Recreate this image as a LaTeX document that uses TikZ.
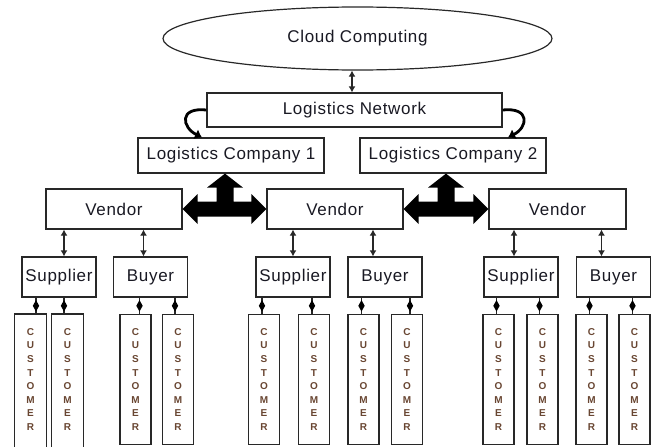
\documentclass[tikz,border=0pt]{standalone}
\usepackage{fontspec}
\setmainfont{Liberation Sans}[LetterSpace=4]
\usetikzlibrary{arrows.meta,shapes.geometric,calc}

\definecolor{edge}{RGB}{40,40,40}
\definecolor{ink}{RGB}{25,25,35}
\definecolor{custink}{RGB}{105,70,50}

% T-shaped block arrow: horizontal double arrow between #1 and #2,
% with a branch pointing up to #3
\newcommand{\blockarrow}[3]{%
  \fill[black] let \p1=(#1), \p2=(#2), \p3=(#3) in
    (\x1,\y1) -- (\x1+15pt,\y1+15pt) -- (\x1+15pt,\y1+7.5pt)
    -- (\x3-8.5pt,\y1+7.5pt) -- (\x3-8.5pt,\y3-14pt) -- (\x3-18pt,\y3-14pt)
    -- (\x3,\y3) -- (\x3+18pt,\y3-14pt) -- (\x3+8.5pt,\y3-14pt)
    -- (\x3+8.5pt,\y2+7.5pt) -- (\x2-15pt,\y2+7.5pt) -- (\x2-15pt,\y2+15pt)
    -- (\x2,\y2) -- (\x2-15pt,\y2-15pt) -- (\x2-15pt,\y2-7.5pt)
    -- (\x1+15pt,\y1-7.5pt) -- (\x1+15pt,\y1-15pt) -- cycle;}

\newcommand{\custword}{C\\U\\S\\T\\O\\M\\E\\R}

\begin{document}
\begin{tikzpicture}[x=1pt,y=-1pt,
  box/.style={draw=edge, line width=1.2pt, fill=white, inner sep=0pt,
    text=ink, font=\fontsize{17}{20}\selectfont},
  cloudshape/.style={box, ellipse, minimum width=389, minimum height=63},
  wide/.style={box, minimum width=186, minimum height=35},
  vendorbox/.style={box, minimum width=136, minimum height=40},
  leaf/.style={box, minimum width=74, minimum height=40},
  cust/.style={draw=edge, line width=1.2pt, fill=white, inner sep=0pt,
    anchor=north, minimum width=31, minimum height=129.5,
    align=center, text=custink,
    font=\fontsize{10}{13.6}\selectfont\bfseries},
  dbl/.style={draw=edge, line width=1.5pt,
    {Latex[length=6pt,width=7pt]}-{Latex[length=6pt,width=7pt]}},
  diaconn/.style={draw=edge, line width=1.5pt},
  dia/.style={diamond, fill=black, inner sep=0pt, minimum width=7, minimum height=12},
  curvy/.style={line width=2.8pt, -{Latex[length=7pt,width=11pt]}}]

\useasboundingbox (0,0) rectangle (657,447);
\clip (0,0) rectangle (657,447);

% upper levels
\node[cloudshape] (cloud) at (357.5,38.5) {Cloud Computing};
\node[box, minimum width=295, minimum height=34] (ln) at (354.5,110) {Logistics Network};
\node[wide] (lc1) at (231,155.5) {Logistics Company 1};
\node[wide] (lc2) at (453,155.5) {Logistics Company 2};

\node[vendorbox] (v1) at (114,209) {Vendor};
\node[vendorbox] (v2) at (335,209) {Vendor};
\node[vendorbox, minimum width=137] (v3) at (557.5,209) {Vendor};

% suppliers and buyers
\node[leaf] (s1) at (59,277) {Supplier};
\node[leaf] (b1) at (150.5,277) {Buyer};
\node[leaf] (s2) at (293,277) {Supplier};
\node[leaf] (b2) at (385,277) {Buyer};
\node[leaf] (s3) at (521,277) {Supplier};
\node[leaf] (b3) at (613.5,277) {Buyer};

% customers
\node[cust, draw=none] (c1) at (30.5,314) {\custword};
\node[cust, draw=none] (c2) at (67.5,314) {\custword};
\draw[draw=edge, line width=1.2pt] ([yshift=-12pt]c1.south west) -- (c1.north west)
  -- (c1.north east) -- ([yshift=-12pt]c1.south east);
\draw[draw=edge, line width=1.2pt] ([yshift=-12pt]c2.south west) -- (c2.north west)
  -- (c2.north east) -- ([yshift=-12pt]c2.south east);
\node[cust] (c3) at (135.5,314) {\custword};
\node[cust] (c4) at (178,314) {\custword};
\node[cust] (c5) at (264,314) {\custword};
\node[cust] (c6) at (314,314) {\custword};
\node[cust] (c7) at (363.5,314) {\custword};
\node[cust] (c8) at (407,314) {\custword};
\node[cust] (c9) at (498.5,314) {\custword};
\node[cust] (c10) at (542.5,314) {\custword};
\node[cust] (c11) at (591.5,314) {\custword};
\node[cust] (c12) at (634.5,314) {\custword};

% cloud to network
\draw[dbl] ([xshift=-5.5pt]cloud.south) -- ([xshift=-2.5pt]ln.north);

% network to the two logistics companies
\draw[curvy] (ln.west) .. controls +(-28,-3) and +(-20,-10) .. ([xshift=-29pt]lc1.north);
\draw[curvy] (ln.east) .. controls +(28,-3) and +(20,-10) .. ([xshift=55pt]lc2.north);

% block arrows between vendors and logistics companies
\blockarrow{v1.east}{v2.west}{[xshift=-6pt]lc1.south}
\blockarrow{v2.east}{v3.west}{[xshift=-7pt]lc2.south}

% vendors to suppliers and buyers
\foreach \leafnode/\parent/\dx in {s1/v1/5, b1/v1/-7, s2/v2/0, b2/v2/-12, s3/v3/-7, b3/v3/-12}
  \draw[dbl] ([xshift=\dx pt]\leafnode.north |- \parent.south) -- ([xshift=\dx pt]\leafnode.north);

% suppliers and buyers to customers
\foreach \c/\parent/\dx in {c1/s1/5.5, c2/s1/-3.5, c3/b1/4, c4/b1/-3,
    c5/s2/-2, c6/s2/-2, c7/b2/-2, c8/b2/3,
    c9/s3/-2, c10/s3/-3, c11/b3/-2, c12/b3/-2}
  \draw[diaconn] ([xshift=\dx pt]\c.north |- \parent.south) -- node[dia]{} ([xshift=\dx pt]\c.north);

\end{tikzpicture}
\end{document}
